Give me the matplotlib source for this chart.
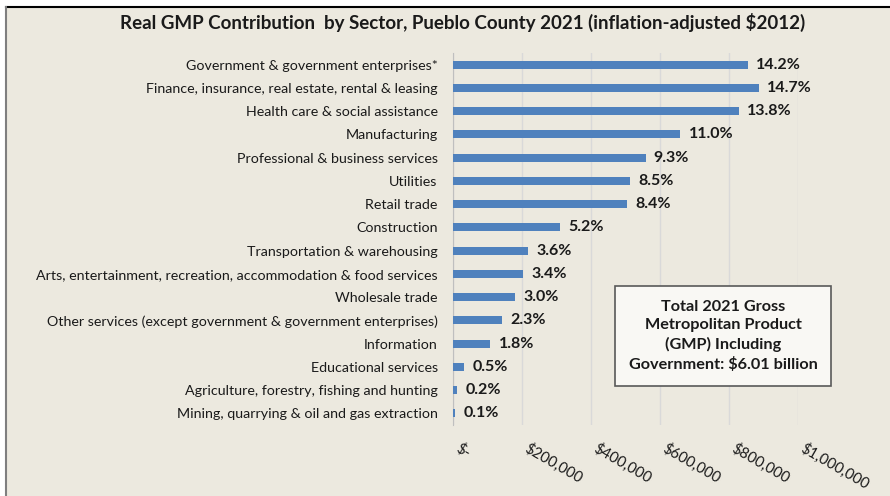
import matplotlib.pyplot as plt
from matplotlib.ticker import FuncFormatter
from matplotlib.patches import Rectangle
from matplotlib.lines import Line2D

# sectors, top to bottom as drawn
sectors = [
    'Government & government enterprises*',
    'Finance, insurance, real estate, rental & leasing',
    'Health care & social assistance',
    'Manufacturing',
    'Professional & business services',
    'Utilities',
    'Retail trade',
    'Construction',
    'Transportation & warehousing',
    'Arts, entertainment, recreation, accommodation & food services',
    'Wholesale trade',
    'Other services (except government & government enterprises)',
    'Information',
    'Educational services',
    'Agriculture, forestry, fishing and hunting',
    'Mining, quarrying & oil and gas extraction',
]
# real GMP, thousands of 2012 dollars
gmp = [855000, 886000, 828000, 659000, 558000, 512000, 504000, 311000,
       218000, 202000, 179000, 141000, 108000, 32000, 12000, 7000]
shares = ['14.2%', '14.7%', '13.8%', '11.0%', '9.3%', '8.5%', '8.4%', '5.2%',
          '3.6%', '3.4%', '3.0%', '2.3%', '1.8%', '0.5%', '0.2%', '0.1%']

bg = '#ECE9DF'
plt.rcParams['font.family'] = ['Lato', 'DejaVu Sans']

fig = plt.figure(figsize=(8.9, 4.96), dpi=100)
fig.patch.set_facecolor('white')
# chart area frame (Excel style)
fig.add_artist(Rectangle((6/890, 0), 1, 1 - 7/496, transform=fig.transFigure,
                         facecolor=bg, edgecolor='none', zorder=0))
fig.add_artist(Line2D([6/890, 1], [1 - 7/496, 1 - 7/496], transform=fig.transFigure,
                      color='black', lw=1.5))
fig.add_artist(Line2D([6/890, 6/890], [0, 1 - 7/496], transform=fig.transFigure,
                      color='#7F7F7F', lw=1.5))

ax = fig.add_axes([453/890, 1 - 425/496, (798 - 453)/890, (425 - 53)/496])
ax.set_facecolor(bg)

y = list(range(len(sectors)))
ax.barh(y, gmp, height=0.35, color='#4F81BD', zorder=3)
for yi, v, s in zip(y, gmp, shares):
    ax.annotate(s, (v, yi), xytext=(6, 0), textcoords='offset points',
                va='center', ha='left', fontsize=11.5, fontweight='bold',
                color='#1a1a1a', zorder=4, annotation_clip=False)

ax.set_yticks(y)
ax.set_yticklabels(sectors, fontsize=10.3, color='#1a1a1a')
ax.set_ylim(len(sectors) - 0.5, -0.5)
ax.set_xlim(0, 1000000)
ax.set_xticks([0, 200000, 400000, 600000, 800000, 1000000])
ax.xaxis.set_major_formatter(FuncFormatter(
    lambda v, p: '$-' if v == 0 else '${:,.0f}'.format(v)))
for lab in ax.get_xticklabels():
    lab.set_rotation(-30)
    lab.set_ha('left')
    lab.set_fontsize(10.8)
    lab.set_color('#1a1a1a')
ax.tick_params(axis='x', length=0, pad=11)
ax.tick_params(axis='y', length=0, pad=11)
ax.grid(axis='x', color='#D9D9D9', lw=1, zorder=0)
for side in ['top', 'right', 'bottom']:
    ax.spines[side].set_visible(False)
ax.spines['left'].set_color('#BFBFBF')

fig.text(463/890, 1 - 22/496, 'Real GMP Contribution  by Sector, Pueblo County 2021 (inflation-adjusted $2012)',
         ha='center', va='center', fontsize=13.5, fontweight='bold', color='#1a1a1a')

fig.text(723/890, 1 - 336/496,
         'Total 2021 Gross\nMetropolitan Product\n(GMP) Including\nGovernment: $6.01 billion',
         ha='center', va='center', fontsize=11.7, fontweight='bold', color='#1a1a1a',
         linespacing=1.4,
         bbox=dict(boxstyle='square,pad=0.85', facecolor='#F9F8F4', edgecolor='#595959', lw=1.2))

fig.savefig('out.png', dpi=100, facecolor=fig.get_facecolor())
